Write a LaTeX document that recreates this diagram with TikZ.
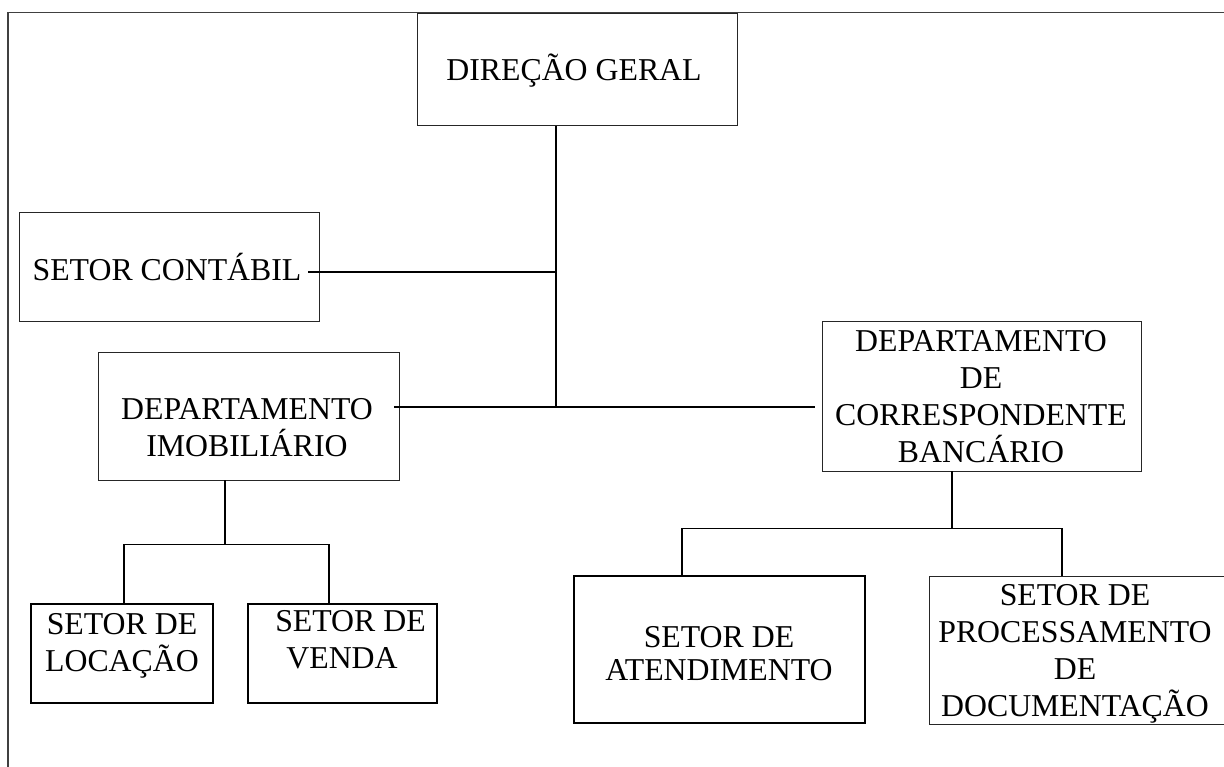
\documentclass[tikz,border=0pt]{standalone}
\usepackage{fontspec}
\setmainfont{Liberation Serif}
\newcommand\lsA{\rule[-8.1pt]{0pt}{37pt}}
\newcommand\lsB{\rule[-6.1pt]{0pt}{33pt}}
\begin{document}
\begin{tikzpicture}[x=1pt,y=-1pt,
  box/.style={draw=black!85, line width=1pt, inner sep=0pt, outer sep=0pt},
  thickbox/.style={draw=black, line width=2pt, inner sep=0pt, outer sep=0pt},
  txt/.style={inner sep=0pt, align=center, font=\fontsize{31.8}{37}\selectfont},
  txtB/.style={inner sep=0pt, align=center, font=\fontsize{31.8}{33}\selectfont},
  conn/.style={draw=black, line width=1.4pt},
  frame/.style={draw=black!75, line width=1.5pt}]
\useasboundingbox (0,0) rectangle (1224,767);

% page frame
\draw[frame] (8,767) -- (8,12.5) -- (1224,12.5);

% boxes
\node[box, minimum width=320pt, minimum height=112pt] (dg) at (577,70) {};
\node[box, minimum width=300pt, minimum height=109pt] (sc) at (169,267.5) {};
\node[box, minimum width=301pt, minimum height=127pt] (di) at (248.5,416.5) {};
\node[box, minimum width=319pt, minimum height=149pt] (cb) at (981.5,396.5) {};
\node[thickbox, minimum width=182pt, minimum height=99pt] (sl) at (122,653.5) {};
\node[thickbox, minimum width=189pt, minimum height=99pt] (sv) at (342.5,653.5) {};
\node[thickbox, minimum width=291pt, minimum height=147pt] (sa) at (719.5,649.5) {};
\node[box, minimum width=297pt, minimum height=148pt] (sp) at (1077.5,650) {};

% texts
\node[txt] (dgt) at (574,70) {DIREÇÃO GERAL\lsA};
\node[txt] (sct) at (167,270) {SETOR CONTÁBIL\lsA};
\node[txt] (dit) at (247,428) {DEPARTAMENTO\lsA\\IMOBILIÁRIO\lsA};
\node[txt] (cbt) at (981,397) {DEPARTAMENTO\lsA\\DE\lsA\\CORRESPONDENTE\lsA\\BANCÁRIO\lsA};
\node[txt] (slt) at (122,642.5) {SETOR DE\lsA\\LOCAÇÃO\lsA};
\node[txt] (svt) at (342,640) {\hspace*{17pt}SETOR DE\lsA\\VENDA\lsA};
\node[txtB] (sat) at (719,653.5) {SETOR DE\lsB\\ATENDIMENTO\lsB};
\node[txt] (spt) at (1075,651) {SETOR DE\lsA\\PROCESSAMENTO\lsA\\DE\lsA\\DOCUMENTAÇÃO\lsA};

% junction coordinates
\coordinate (t1) at (556,272);
\coordinate (t2) at (556,407);
\coordinate (scE) at (308,272);
\coordinate (diE) at (394,407);
\coordinate (cbW) at (815,407);
\coordinate (d1) at (225,544.5);
\coordinate (l1) at (124,544.5);
\coordinate (l2) at (329,544.5);
\coordinate (c1) at (952,528.5);
\coordinate (r1) at (682,528.5);
\coordinate (r2) at (1062,528.5);

% connectors
\draw[conn] (dg.south -| t1) -- (t1) -- (t2);
\draw[conn] (scE) -- (t1);
\draw[conn] (diE) -- (t2) -- (cbW);
\draw[conn] (di.south -| d1) -- (d1);
\draw[conn] (sl.north -| l1) -- (l1) -- (l2) -- (sv.north -| l2);
\draw[conn] (cb.south -| c1) -- (c1);
\draw[conn] (sa.north -| r1) -- (r1) -- (r2) -- (sp.north -| r2);
\end{tikzpicture}
\end{document}
